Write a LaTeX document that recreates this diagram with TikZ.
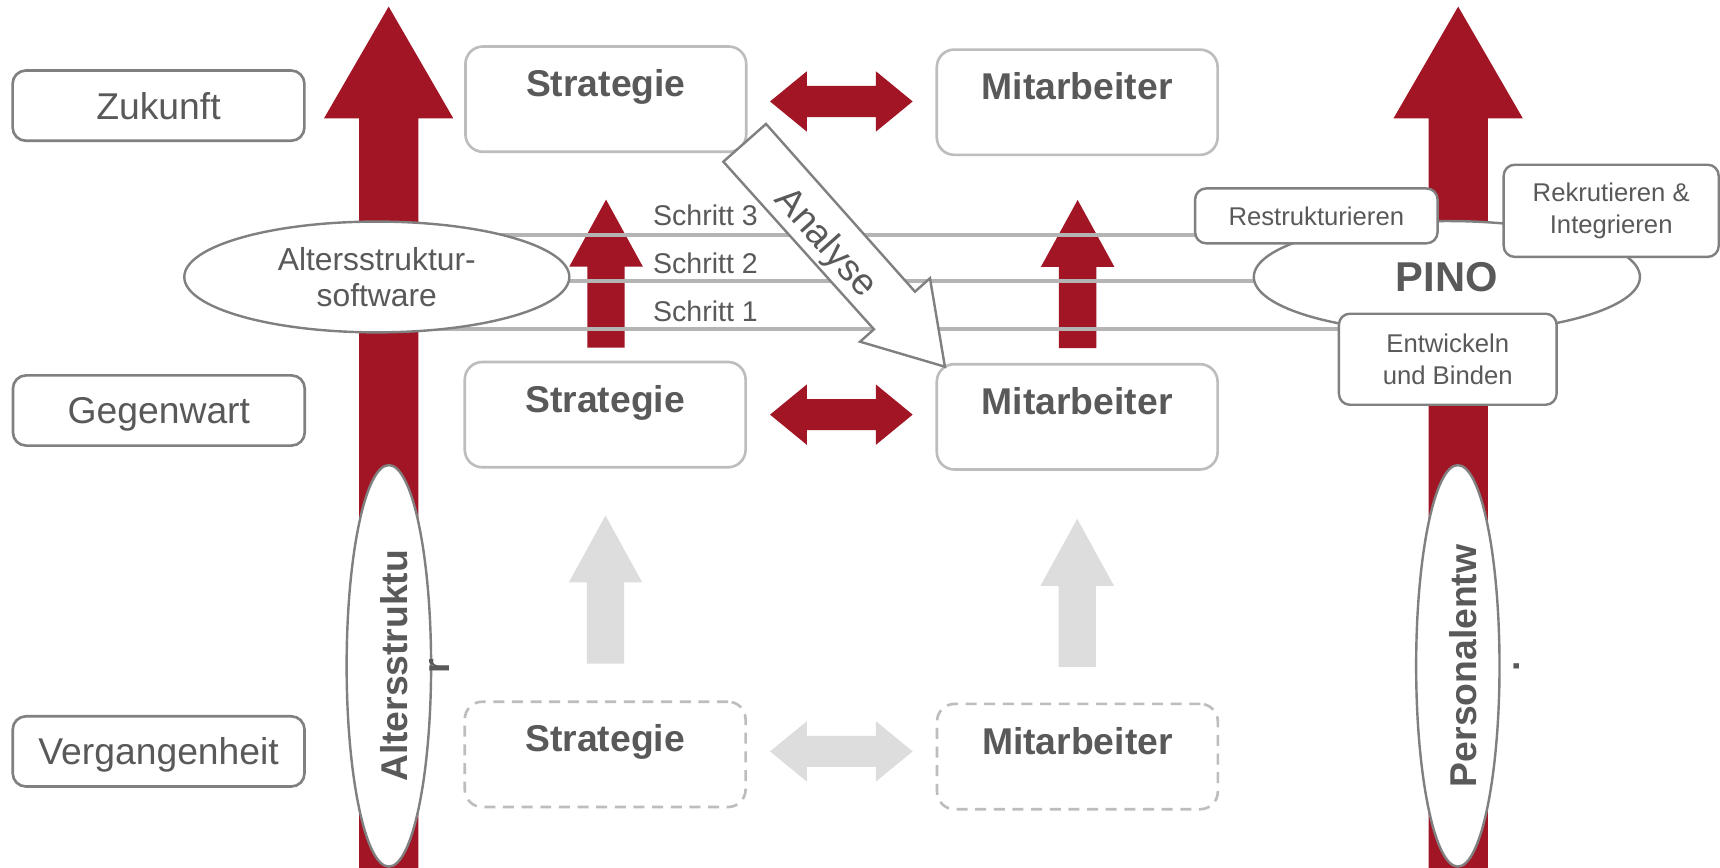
\documentclass[tikz,border=0pt]{standalone}
\usepackage{fontspec}
\setmainfont{Liberation Sans}
\usetikzlibrary{shapes.geometric,calc}
\definecolor{dred}{RGB}{161,21,37}
\definecolor{txt}{HTML}{595959}
\definecolor{bdark}{HTML}{808080}
\definecolor{blight}{HTML}{BDBDBD}
\definecolor{lgray}{HTML}{DDDDDD}
\definecolor{lineg}{HTML}{B4B4B4}
\pgfdeclarelayer{bg}
\pgfdeclarelayer{mid}
\pgfsetlayers{bg,mid,main}
\tikzset{
  labelbox/.style={draw=bdark, line width=1.2pt, rounded corners=6pt, fill=white, minimum width=133pt, minimum height=32pt, inner sep=0pt, text height=12.2pt, text depth=0pt, font=\fontsize{17}{20}\selectfont},
  midbox/.style={draw=blight, line width=1.2pt, rounded corners=8pt, fill=white, minimum width=128pt, minimum height=48pt, inner sep=0pt},
  pastbox/.style={midbox, dash pattern=on 5pt off 3.5pt},
  title/.style={font=\bfseries\fontsize{17}{20}\selectfont, anchor=base, inner sep=0pt},
  smallbox/.style={draw=bdark, line width=1.1pt, rounded corners=5pt, fill=white, inner sep=0pt, align=center, font=\fontsize{11.7}{14.5}\selectfont},
  oval/.style={ellipse, draw=bdark, line width=1.1pt, fill=white, inner sep=0pt},
  vtext/.style={rotate=90, align=center, font=\bfseries\fontsize{17}{19.5}\selectfont, inner sep=0pt},
  stepline/.style={draw=lineg, line width=1.8pt},
  steplabel/.style={font=\fontsize{13}{15}\selectfont, anchor=base west, inner sep=0pt},
  dblarrow/.pic={\fill (-65,0) -- (-31.5,-27.5) -- (-31.5,-14.2) -- (31.5,-14.2) -- (31.5,-27.5) -- (65,0) -- (31.5,27.5) -- (31.5,14.2) -- (-31.5,14.2) -- (-31.5,27.5) -- cycle;},
  uparr/.pic={\fill (0,0) -- (33.5,61) -- (17,61) -- (17,135) -- (-17,135) -- (-17,61) -- (-33.5,61) -- cycle;},
  bigarr/.pic={\fill (0,0) -- (59,102) -- (27,102) -- (27,790) -- (-27,790) -- (-27,102) -- (-59,102) -- cycle;}
}
\begin{document}
\begin{tikzpicture}[x=0.5pt, y=-0.5pt, every node/.append style={text=txt}]
\useasboundingbox (0,0) rectangle (1568,791);
\begin{pgfonlayer}{bg}
  \fill[white] (0,0) rectangle (1568,791);
  \pic[fill=dred] at (354.3,6) {bigarr};
  \pic[fill=dred] at (1329.3,6) {bigarr};
  \pic[fill=dred] at (552.5,182) {uparr};
  \pic[fill=dred] at (982.4,182.3) {uparr};
  \pic[fill=lgray] at (552,470) {uparr};
  \pic[fill=lgray] at (982,473) {uparr};
\end{pgfonlayer}

% time labels
\node[labelbox] (zuk) at (144.5,96.3) {Zukunft};
\node[labelbox] (geg) at (144.8,374.2) {Gegenwart};
\node[labelbox] (ver) at (144.6,685) {Vergangenheit};

% strategy / staff boxes
\node[midbox] (s3) at (552.3,90.4) {};
\node[midbox] (m3) at (982,93.2) {};
\node[midbox] (s2) at (551.7,378) {};
\node[midbox] (m2) at (982,380) {};
\node[pastbox] (s1) at (551.7,687.7) {};
\node[pastbox] (m1) at (982.2,689.7) {};
\node[title] (s3t) at ([yshift=1.1pt]s3.center) {Strategie};
\node[title] (m3t) at ([yshift=1.1pt]m3.center) {Mitarbeiter};
\node[title] (s2t) at ([yshift=1.1pt]s2.center) {Strategie};
\node[title] (m2t) at ([yshift=1.1pt]m2.center) {Mitarbeiter};
\node[title] (s1t) at ([yshift=1.1pt]s1.center) {Strategie};
\node[title] (m1t) at ([yshift=1.1pt]m1.center) {Mitarbeiter};

% ellipses and small boxes
\node[oval, minimum width=175.5pt, minimum height=50.5pt, align=center, font=\fontsize{14.5}{16.5}\selectfont] (asw) at (343.5,252.5) {Altersstruktur-\\software};
\node[oval, minimum width=176pt, minimum height=51pt, font=\bfseries\fontsize{19}{22}\selectfont] (pino) at (1319,252.5) {PINO};
\node[smallbox, minimum width=110.5pt, minimum height=25pt] (rest) at (1200,196.8) {Restrukturieren};
\node[smallbox, minimum width=98pt, minimum height=42pt] (rek) at (1468.8,192.2) {Rekrutieren \&\\Integrieren};
\node[smallbox, minimum width=99.2pt, minimum height=41.5pt] (ent) at (1319.8,327.5) {Entwickeln\\und Binden};

% step lines
\path (0,214.5) coordinate (y3) (0,256.5) coordinate (y2) (0,300) coordinate (y1);
\begin{pgfonlayer}{mid}
  \draw[stepline] (asw.center |- y3) -- (rest.center |- y3);
  \draw[stepline] (asw.center |- y2) -- (pino.center |- y2);
  \draw[stepline] (asw.center |- y1) -- (ent.center |- y1);
\end{pgfonlayer}
\node[steplabel] (st3) at (595,206) {Schritt 3};
\node[steplabel] (st2) at (595,249) {Schritt 2};
\node[steplabel] (st1) at (595,293) {Schritt 1};

% analyse arrow
\draw[draw=bdark, line width=1.1pt, fill=white, line join=miter] (659.4,147.4) -- (698.3,113.0) -- (834.1,265.9) -- (847.8,253.7) -- (861.4,334.3) -- (784,311.5) -- (796.7,300.2) -- cycle;
\node[rotate=-48.2, font=\fontsize{17}{20}\selectfont, inner sep=0pt] (ana) at (752,222) {Analyse};

% vertical ellipses
\node[oval, minimum width=38.5pt, minimum height=183pt] (ael) at (354.5,607) {};
\node[vtext] (aet) at (378.3,607) {Altersstruktu\\r};
\node[oval, minimum width=38pt, minimum height=183pt] (pel) at (1329,607) {};
\node[vtext] (pet) at (1353.3,607) {Personalentw\\.};

% double arrows
\pic[fill=dred] at (767,92.5) {dblarrow};
\pic[fill=dred] at (767,378) {dblarrow};
\pic[fill=lgray] at (767,685) {dblarrow};
\end{tikzpicture}
\end{document}
